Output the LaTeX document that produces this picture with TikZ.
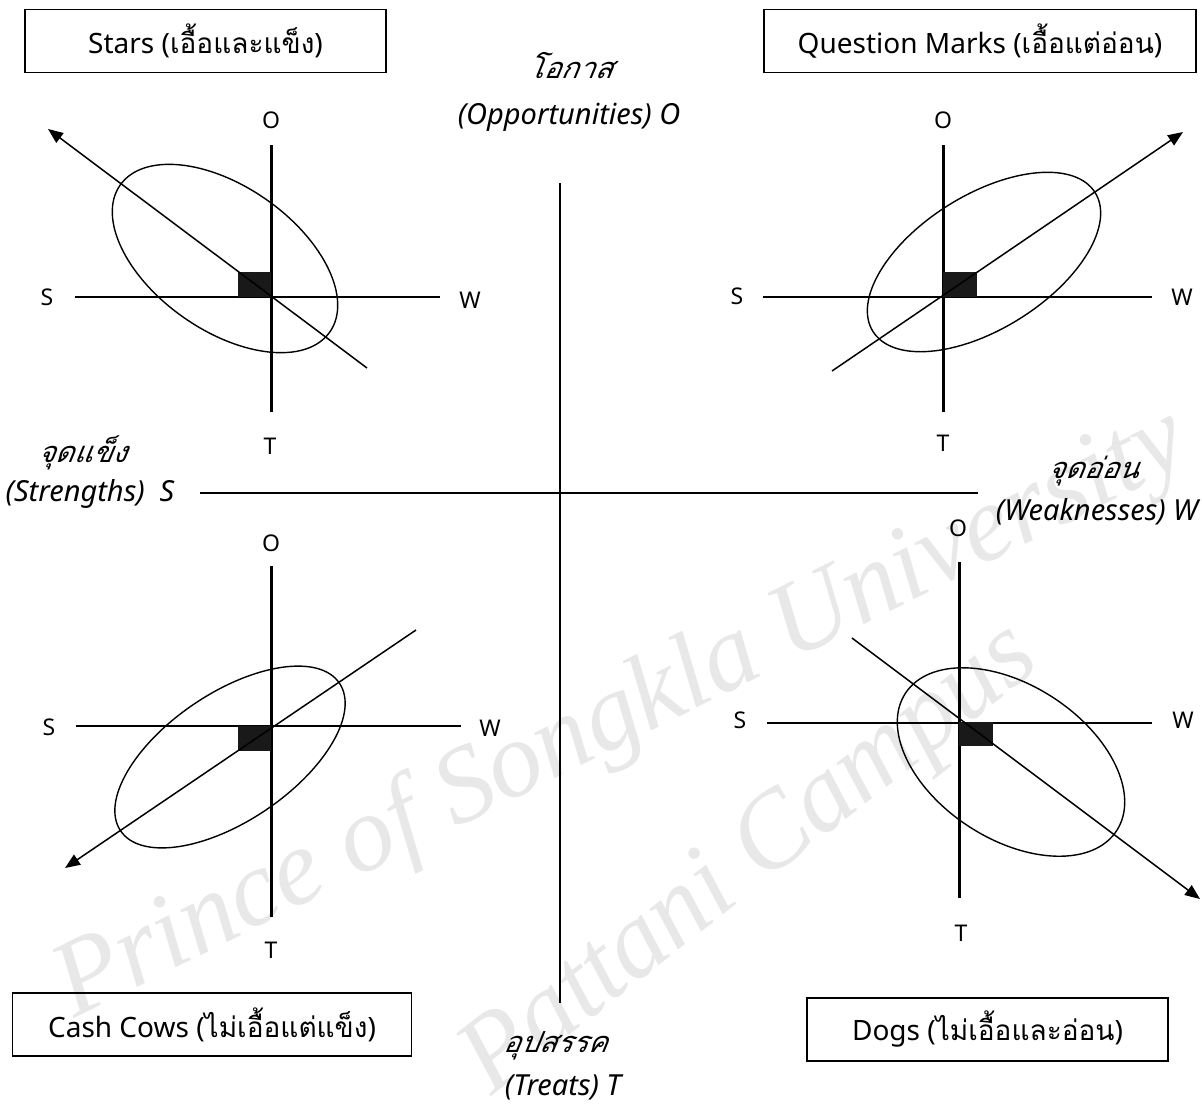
\documentclass[tikz,border=0pt]{standalone}
\usepackage{fontspec}
\setmainfont{Noto Sans}
\newfontfamily\thai[Script=Thai]{Loma}
\newfontfamily\thaiit[Script=Thai,FakeSlant=0.2]{Loma}
\newfontfamily\wmfont{Liberation Serif}
\usetikzlibrary{arrows.meta}
\tikzset{
  vline/.style={line width=3pt},
  hline/.style={line width=2.2pt},
  mainline/.style={line width=2.6pt},
  diag/.style={line width=1.5pt},
  ell/.style={line width=1.4pt},
  arr/.style={diag,-{Triangle[length=15pt,width=12pt]}},
  quadbox/.style={draw,line width=1.5pt,inner sep=0pt,font=\fontsize{28}{32}\selectfont},
  letter/.style={inner sep=0pt,font=\fontsize{23}{27}\selectfont},
  itlabel/.style={inner sep=0pt,font=\fontsize{29}{33}\selectfont\itshape},
  blockfill/.style={fill=black!90},
  watermark/.style={text=black!9,font=\wmfont\itshape\fontsize{108}{108}\selectfont}
}
\begin{document}
\begin{tikzpicture}[x=1pt,y=-1pt]
\useasboundingbox (0,0) rectangle (1202,1104);
% watermark
\node[watermark,rotate=26.5] (wm1) at (622,716) {Prince of Songkla University};
\node[watermark,rotate=38] (wm2) at (752,862) {Pattani Campus};

% boxes
\node[quadbox,minimum width=361pt,minimum height=63pt] (stars) at (205.5,41) {Stars ({\thai เอื้อและแข็ง})};
\node[quadbox,minimum width=432pt,minimum height=63pt] (qm) at (980,41) {Question Marks ({\thai เอื้อแต่อ่อน})};
\node[quadbox,minimum width=399pt,minimum height=63pt] (cash) at (212,1024.5) {Cash Cows ({\thai ไม่เอื้อแต่แข็ง})};
\node[quadbox,minimum width=361pt,minimum height=63pt] (dogs) at (987.5,1029.5) {Dogs ({\thai ไม่เอื้อและอ่อน})};

% central axes
\coordinate (ctop) at (560,183);
\coordinate (cbot) at (560,1003);
\coordinate (cleft) at (200,493);
\coordinate (cright) at (978,493);
\draw[mainline] (ctop) -- (cbot);
\draw[mainline] (cleft) -- (cright);

% central labels
\node[itlabel] (oth) at (570,66) {\thaiit โอกาส};
\node[itlabel] (oen) at (569,117) {(Opportunities) O};
\node[itlabel] (sth) at (82,453) {\thaiit จุดแข็ง};
\node[itlabel] (sen) at (90,494) {(Strengths)\ \ S};
\node[itlabel] (wth) at (1093,471) {\thaiit จุดอ่อน};
\node[itlabel] (wen) at (1097,512) {(Weaknesses) W};
\node[itlabel] (tth) at (555,1046) {\thaiit อุปสรรค};
\node[itlabel] (ten) at (563,1087) {(Treats) T};

% ---------- Stars (top left)
\coordinate (a1n) at (271,145);
\coordinate (a1s) at (271,412);
\coordinate (a1w) at (75,297);
\coordinate (a1e) at (440,297);
\coordinate (a1c) at (271,297);
\draw[ell,rotate around={-35:(225,258.5)}] (225,258.5) ellipse [x radius=128pt,y radius=72pt];
\draw[vline] (a1n) -- (a1s);
\draw[hline] (a1w) -- (a1e);
\fill[blockfill] (238,272) rectangle (a1c);
\coordinate (a1t) at (367,368);
\coordinate (a1h) at (48,129);
\draw[arr] (a1t) -- (a1h);
\node[letter] (l1o) at (271,120) {O};
\node[letter] (l1t) at (270,446) {T};
\node[letter] (l1s) at (47,297) {S};
\node[letter] (l1w) at (470,300) {W};

% ---------- Question Marks (top right)
\coordinate (a2n) at (943,145);
\coordinate (a2s) at (943,412);
\coordinate (a2w) at (763,297);
\coordinate (a2e) at (1152,297);
\coordinate (a2c) at (943,297);
\draw[ell,rotate around={32:(984,262)}] (984,262) ellipse [x radius=131pt,y radius=67pt];
\draw[vline] (a2n) -- (a2s);
\draw[hline] (a2w) -- (a2e);
\fill[blockfill] (a2c) rectangle (977,272);
\coordinate (a2t) at (832,371);
\coordinate (a2h) at (1183,132);
\draw[arr] (a2t) -- (a2h);
\node[letter] (l2o) at (943,120) {O};
\node[letter] (l2t) at (943,443) {T};
\node[letter] (l2s) at (737,296) {S};
\node[letter] (l2w) at (1182,297) {W};

% ---------- Cash Cows (bottom left)
\coordinate (a3n) at (271,566);
\coordinate (a3s) at (271,917);
\coordinate (a3w) at (76,726);
\coordinate (a3e) at (461,726);
\coordinate (a3c) at (271,726);
\draw[ell,rotate around={34:(230,757)}] (230,757) ellipse [x radius=132pt,y radius=64pt];
\draw[vline] (a3n) -- (a3s);
\draw[hline] (a3w) -- (a3e);
\fill[blockfill] (238,751) rectangle (a3c);
\coordinate (a3t) at (416,630);
\coordinate (a3h) at (65,868);
\draw[arr] (a3t) -- (a3h);
\node[letter] (l3o) at (271,543) {O};
\node[letter] (l3t) at (271,950) {T};
\node[letter] (l3s) at (49,727) {S};
\node[letter] (l3w) at (490,728) {W};

% ---------- Dogs (bottom right)
\coordinate (a4n) at (959,562);
\coordinate (a4s) at (959,898);
\coordinate (a4w) at (767,723);
\coordinate (a4e) at (1152,723);
\coordinate (a4c) at (959,722);
\draw[ell,rotate around={-33:(1011,762)}] (1011,762) ellipse [x radius=126pt,y radius=77pt];
\draw[vline] (a4n) -- (a4s);
\draw[hline] (a4w) -- (a4e);
\fill[blockfill] (a4c) rectangle (993,746);
\coordinate (a4t) at (852,638);
\coordinate (a4h) at (1200,899);
\draw[arr] (a4t) -- (a4h);
\node[letter] (l4o) at (958,528) {O};
\node[letter] (l4t) at (961,933) {T};
\node[letter] (l4s) at (740,720) {S};
\node[letter] (l4w) at (1183,720) {W};
\end{tikzpicture}
\end{document}
